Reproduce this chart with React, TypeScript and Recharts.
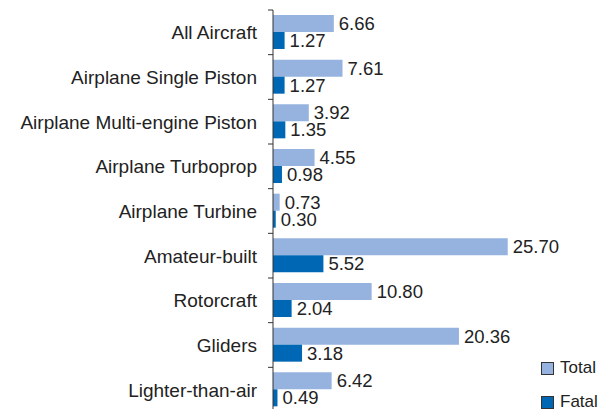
import { BarChart, Bar, XAxis, YAxis, LabelList } from "recharts"

const categories = [
  "All Aircraft",
  "Airplane Single Piston",
  "Airplane Multi-engine Piston",
  "Airplane Turboprop",
  "Airplane Turbine",
  "Amateur-built",
  "Rotorcraft",
  "Gliders",
  "Lighter-than-air",
]
const totalRates = [6.66, 7.61, 3.92, 4.55, 0.73, 25.7, 10.8, 20.36, 6.42]
const fatalRates = [1.27, 1.27, 1.35, 0.98, 0.3, 5.52, 2.04, 3.18, 0.49]
const seriesNames = ["Total", "Fatal"]

const TOTAL_COLOR = "#95b3de"
const FATAL_COLOR = "#0067b4"
const FONT = "'Liberation Sans', Arial, sans-serif"

const data = categories.map((name, i) => ({
  name,
  total: totalRates[i],
  fatal: fatalRates[i],
}))

// category label at band centre, tick mark at the band's top edge
const CategoryTick = ({ x, y, payload }: any) => {
  const half = payload?.offset || 22.3
  return (
    <g>
      <line x1={x + 9} x2={x + 14} y1={y - half} y2={y - half} stroke="#333" strokeWidth={1} />
      <text x={x - 2} y={y} dy={7} textAnchor="end" fill="#222" fontSize={19} fontFamily={FONT}>
        {payload.value}
      </text>
    </g>
  )
}

const labelStyle = { fill: "#222", fontSize: 18.5, fontFamily: FONT }

export default function App() {
  return (
    <div style={{ position: "absolute", left: 0, top: 0, width: 607, height: 409, overflow: "hidden", background: "#fff" }}>
      <BarChart
        width={607}
        height={412}
        data={data}
        layout="vertical"
        margin={{ top: 10, right: 60, bottom: 0, left: 0 }}
        barGap={0}
        barSize={17}
      >
        <XAxis type="number" domain={[0, 30]} hide />
        <YAxis
          type="category"
          dataKey="name"
          width={273}
          axisLine={{ stroke: "#333" }}
          tickLine={false}
          tickSize={5}
          tickMargin={9}
          interval={0}
          tick={<CategoryTick />}
        />
        <Bar dataKey="total" name="Total" fill={TOTAL_COLOR} isAnimationActive={false}>
          <LabelList
            dataKey="total"
            position="right"
            offset={5}
            formatter={(v: any) => Number(v).toFixed(2)}
            style={labelStyle}
          />
        </Bar>
        <Bar dataKey="fatal" name="Fatal" fill={FATAL_COLOR} isAnimationActive={false}>
          <LabelList
            dataKey="fatal"
            position="right"
            offset={5}
            formatter={(v: any) => Number(v).toFixed(2)}
            style={labelStyle}
          />
        </Bar>
      </BarChart>
      <div style={{ position: "absolute", left: 541, top: 351, fontFamily: FONT, fontSize: 17, color: "#222" }}>
        {seriesNames.map((s, i) => (
          <div key={s} style={{ display: "flex", alignItems: "center", height: 34 }}>
            <span
              style={{
                width: 11,
                height: 11,
                marginRight: 6,
                background: i === 0 ? TOTAL_COLOR : FATAL_COLOR,
                border: "1px solid #333",
              }}
            />
            {s}
          </div>
        ))}
      </div>
    </div>
  )
}
